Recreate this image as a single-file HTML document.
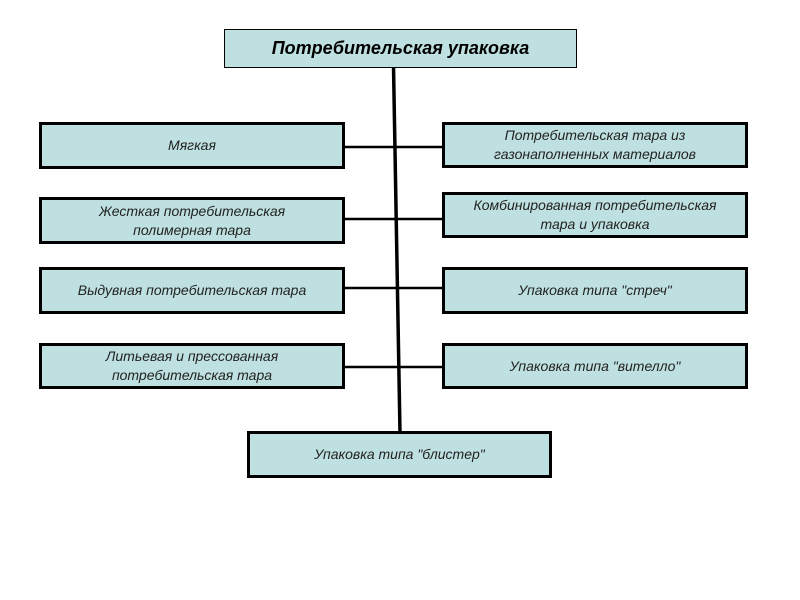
<!DOCTYPE html>
<html><head><meta charset="utf-8"><style>
body{margin:0;width:800px;height:600px;background:#fff;position:relative;overflow:hidden;font-family:"Liberation Sans",sans-serif}
.b{position:absolute;box-sizing:border-box;background:#bfe0e0;border:3px solid #000;display:flex;align-items:center;justify-content:center;text-align:center;font-style:italic;font-size:14px;color:#222;line-height:19px}
svg{position:absolute;left:0;top:0}
</style></head><body>
<svg width="800" height="600">
<line x1="393.5" y1="66" x2="400" y2="433" stroke="#000" stroke-width="3.5"/>
<line x1="343" y1="147" x2="444" y2="147" stroke="#000" stroke-width="2.5"/>
<line x1="343" y1="219" x2="444" y2="219" stroke="#000" stroke-width="2.5"/>
<line x1="343" y1="288" x2="444" y2="288" stroke="#000" stroke-width="2.5"/>
<line x1="343" y1="367" x2="444" y2="367" stroke="#000" stroke-width="2.5"/>
</svg>
<div class="b" style="left:224px;top:29px;width:353px;height:39px;border-width:1px;font-weight:bold;font-size:18px;color:#000">Потребительская упаковка</div>
<div class="b" style="left:39px;top:122px;width:306px;height:47px">Мягкая</div>
<div class="b" style="left:39px;top:197px;width:306px;height:47px">Жесткая потребительская<br>полимерная тара</div>
<div class="b" style="left:39px;top:267px;width:306px;height:47px">Выдувная потребительская тара</div>
<div class="b" style="left:39px;top:343px;width:306px;height:46px">Литьевая и прессованная<br>потребительская тара</div>
<div class="b" style="left:442px;top:122px;width:306px;height:46px">Потребительская тара из<br>газонаполненных материалов</div>
<div class="b" style="left:442px;top:192px;width:306px;height:46px">Комбинированная потребительская<br>тара и упаковка</div>
<div class="b" style="left:442px;top:267px;width:306px;height:47px">Упаковка типа "стреч"</div>
<div class="b" style="left:442px;top:343px;width:306px;height:46px">Упаковка типа "вителло"</div>
<div class="b" style="left:247px;top:431px;width:305px;height:47px">Упаковка типа "блистер"</div>
</body></html>
